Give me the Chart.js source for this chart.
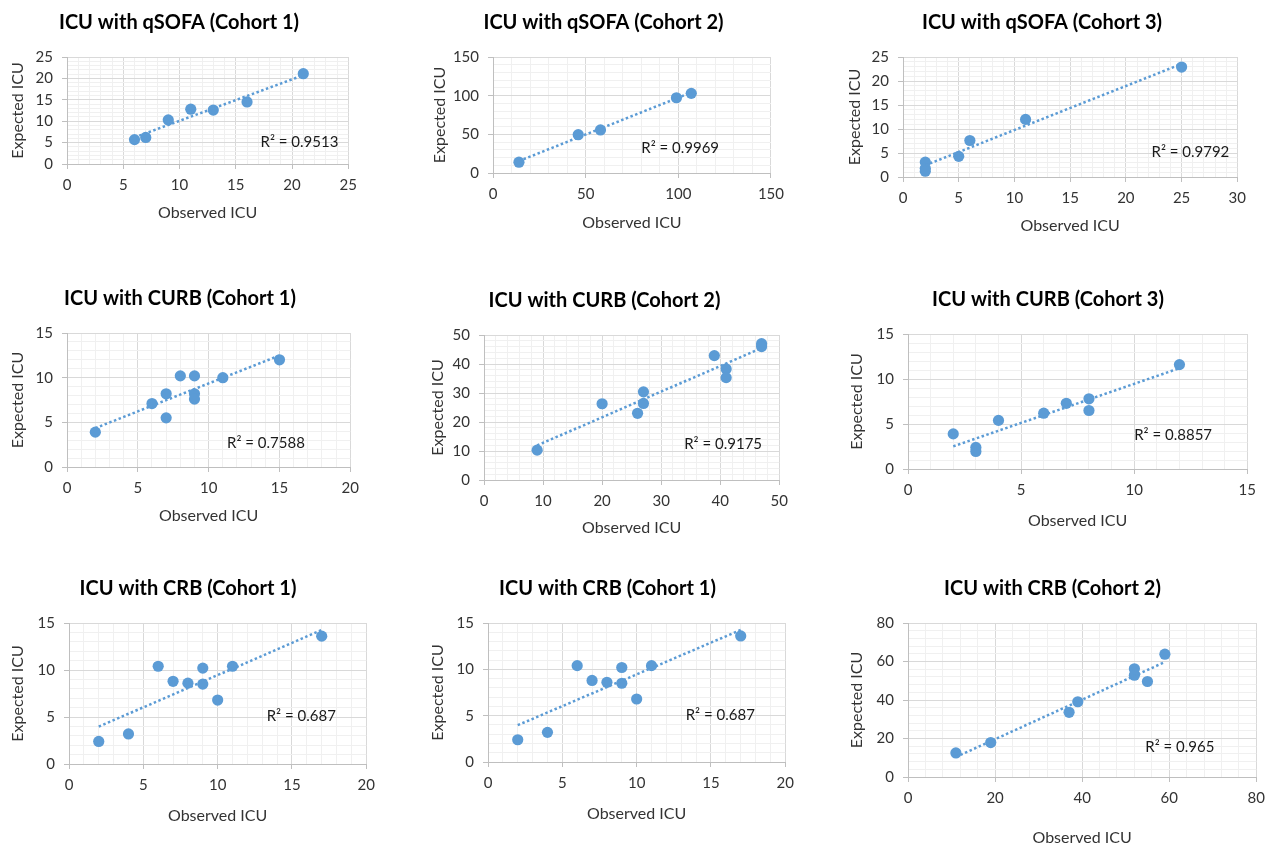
<!DOCTYPE html>
<html>
<head>
<meta charset="utf-8">
<script src="https://cdn.jsdelivr.net/npm/chart.js@4.4.1/dist/chart.umd.min.js"></script>
<style>
html, body { margin: 0; padding: 0; background: #fff; width: 1276px; height: 845px; overflow: hidden; }
canvas { position: absolute; }
</style>
</head>
<body>
<script>
// chart values
var titles = [
    "ICU with qSOFA (Cohort 1)", "ICU with qSOFA (Cohort 2)", "ICU with qSOFA (Cohort 3)",
    "ICU with CURB (Cohort 1)", "ICU with CURB (Cohort 2)", "ICU with CURB (Cohort 3)",
    "ICU with CRB (Cohort 1)", "ICU with CRB (Cohort 1)", "ICU with CRB (Cohort 2)"
];

var obsQsofa1 = [6, 7, 9, 11, 13, 16, 21];
var expQsofa1 = [5.7, 6.2, 10.3, 12.8, 12.6, 14.5, 21.1];

var obsQsofa2 = [14, 46, 58, 99, 107];
var expQsofa2 = [14, 49.5, 55.7, 97.3, 103];

var obsQsofa3 = [2, 2, 2, 5, 6, 11, 25];
var expQsofa3 = [3.1, 1.8, 1.2, 4.3, 7.6, 12, 22.9];

var obsCurb1 = [2, 6, 7, 7, 8, 9, 9, 9, 11, 15];
var expCurb1 = [3.9, 7.1, 8.2, 5.5, 10.2, 10.2, 8.2, 7.6, 10, 12];

var obsCurb2 = [9, 20, 26, 27, 27, 39, 41, 41, 47, 47];
var expCurb2 = [10.3, 26.3, 23, 30.4, 26.4, 42.9, 38.3, 35.3, 47, 46];

var obsCurb3 = [2, 3, 3, 4, 6, 7, 8, 8, 12];
var expCurb3 = [3.9, 2.4, 1.95, 5.4, 6.2, 7.3, 7.8, 6.5, 11.6];

var obsCrb1 = [2, 4, 6, 7, 8, 9, 9, 10, 11, 17];
var expCrb1 = [2.4, 3.2, 10.4, 8.8, 8.6, 10.2, 8.5, 6.8, 10.4, 13.6];

var obsCrb2 = [11, 19, 37, 39, 52, 52, 55, 59];
var expCrb2 = [12.5, 17.9, 33.6, 39.1, 56.2, 52.9, 49.6, 63.8];

var observed = [obsQsofa1, obsQsofa2, obsQsofa3, obsCurb1, obsCurb2, obsCurb3, obsCrb1, obsCrb1, obsCrb2];
var expected = [expQsofa1, expQsofa2, expQsofa3, expCurb1, expCurb2, expCurb3, expCrb1, expCrb1, expCrb2];

var r2Text = ["R\u00b2 = 0.9513", "R\u00b2 = 0.9969", "R\u00b2 = 0.9792",
              "R\u00b2 = 0.7588", "R\u00b2 = 0.9175", "R\u00b2 = 0.8857",
              "R\u00b2 = 0.687", "R\u00b2 = 0.687", "R\u00b2 = 0.965"];

// axis ranges: max and major tick step
var xMax = [25, 150, 30, 20, 50, 15, 20, 20, 80];
var xMajor = [5, 50, 5, 5, 10, 5, 5, 5, 20];
var yMax = [25, 150, 25, 15, 50, 15, 15, 15, 80];
var yMajor = [5, 50, 5, 5, 10, 5, 5, 5, 20];

// where the R² text sits, in data units
var r2At = [[17.2, 5], [80, 32], [22.3, 5.2], [11.3, 2.7], [33.9, 12.3], [10, 3.8], [13.3, 5.1], [13.3, 5.1], [54.5, 15.7]];

// plot boxes on the page: plot left/right/top/bottom, y-title x, x-title y
var boxes = [
    [67, 350, 57, 164, 18, 212], [493, 777, 57, 173, 440, 222], [903, 1239, 57, 177, 855, 225],
    [67, 352, 333, 467, 18, 515], [484, 781, 335, 480, 438, 527], [908, 1249, 334, 469, 857, 520],
    [69, 368, 623, 764, 18, 815], [488, 787, 623, 762, 438, 813], [908, 1258, 623, 777, 857, 837]
];

var blue = "#5b9bd5";
var fontName = "Lato";

function fitLine(xs, ys) {
    var n = xs.length, sx = 0, sy = 0, sxx = 0, sxy = 0;
    for (var i = 0; i < n; i++) {
        sx += xs[i]; sy += ys[i];
        sxx += xs[i] * xs[i]; sxy += xs[i] * ys[i];
    }
    var slope = (n * sxy - sx * sy) / (n * sxx - sx * sx);
    var icpt = (sy - slope * sx) / n;
    var lo = Math.min.apply(null, xs), hi = Math.max.apply(null, xs);
    return [{x: lo, y: icpt + slope * lo}, {x: hi, y: icpt + slope * hi}];
}

function isMajor(v, step) {
    var r = Math.abs(v % step);
    return r < 1e-6 || Math.abs(r - step) < 1e-6;
}

var r2Plugin = {
    id: "r2label",
    afterDatasetsDraw: function (chart, args, opts) {
        var ctx = chart.ctx;
        ctx.save();
        ctx.font = "15px " + fontName;
        ctx.fillStyle = "#1a1a1a";
        ctx.textBaseline = "middle";
        ctx.textAlign = "left";
        ctx.fillText(opts.text, chart.scales.x.getPixelForValue(opts.at[0]), chart.scales.y.getPixelForValue(opts.at[1]));
        ctx.restore();
    }
};

function axis(max, major, label, fitSize, horizontal) {
    return {
        type: "linear",
        min: 0,
        max: max,
        border: {color: "#bfbfbf", width: 1},
        grid: {
            color: function (c) { return (c.tick && isMajor(c.tick.value, major)) ? "#d9d9d9" : "#f0f0f0"; },
            tickColor: function (c) { return (c.tick && isMajor(c.tick.value, major)) ? "#bfbfbf" : "rgba(0,0,0,0)"; },
            tickLength: 5,
            lineWidth: 1
        },
        ticks: {
            stepSize: major / 5,
            autoSkip: false,
            maxRotation: 0,
            minRotation: 0,
            padding: horizontal ? 7 : 9,
            color: "#333333",
            font: {family: fontName, size: 15},
            callback: function (v) { return isMajor(v, major) ? String(Math.round(v)) : ""; }
        },
        title: {display: true, text: label, color: "#333333", font: {family: fontName, size: 16}, padding: 0},
        afterFit: function (s) {
            if (horizontal) { s.height = fitSize; } else { s.width = fitSize; }
        }
    };
}

function drawPanel(i) {
    var b = boxes[i];
    var cLeft = b[4] - 10, cTop = b[2] - 50;
    var cWidth = b[1] + 14 - cLeft, cHeight = b[5] + 10 - cTop;
    var cv = document.createElement("canvas");
    cv.width = cWidth; cv.height = cHeight;
    cv.style.left = cLeft + "px"; cv.style.top = cTop + "px";
    cv.style.width = cWidth + "px"; cv.style.height = cHeight + "px";
    document.body.appendChild(cv);

    var pts = [];
    for (var j = 0; j < observed[i].length; j++) {
        pts.push({x: observed[i][j], y: expected[i][j]});
    }

    new Chart(cv, {
        type: "scatter",
        data: {
            datasets: [{
                data: fitLine(observed[i], expected[i]),
                showLine: true,
                borderColor: blue,
                borderWidth: 2.5,
                borderDash: [2.5, 2.5],
                pointRadius: 0,
                pointHoverRadius: 0,
                fill: false
            }, {
                data: pts,
                backgroundColor: blue,
                borderColor: blue,
                pointRadius: 5.6,
                pointBorderWidth: 0,
                pointHoverRadius: 5.6
            }]
        },
        options: {
            responsive: false,
            animation: false,
            layout: {padding: {left: 0, top: 0, right: 14, bottom: 0}},
            plugins: {
                legend: {display: false},
                tooltip: {enabled: false},
                title: {
                    display: true,
                    text: titles[i],
                    color: "#000",
                    font: {family: fontName, size: 20, weight: "bold"},
                    padding: {top: 4, bottom: 22}
                },
                r2label: {text: r2Text[i], at: r2At[i]}
            },
            scales: {
                x: axis(xMax[i], xMajor[i], "Observed ICU", b[5] + 10 - b[3], true),
                y: axis(yMax[i], yMajor[i], "Expected ICU", b[0] - cLeft, false)
            }
        },
        plugins: [r2Plugin]
    });
}

for (var k = 0; k < 9; k++) {
    drawPanel(k);
}
</script>
</body>
</html>
